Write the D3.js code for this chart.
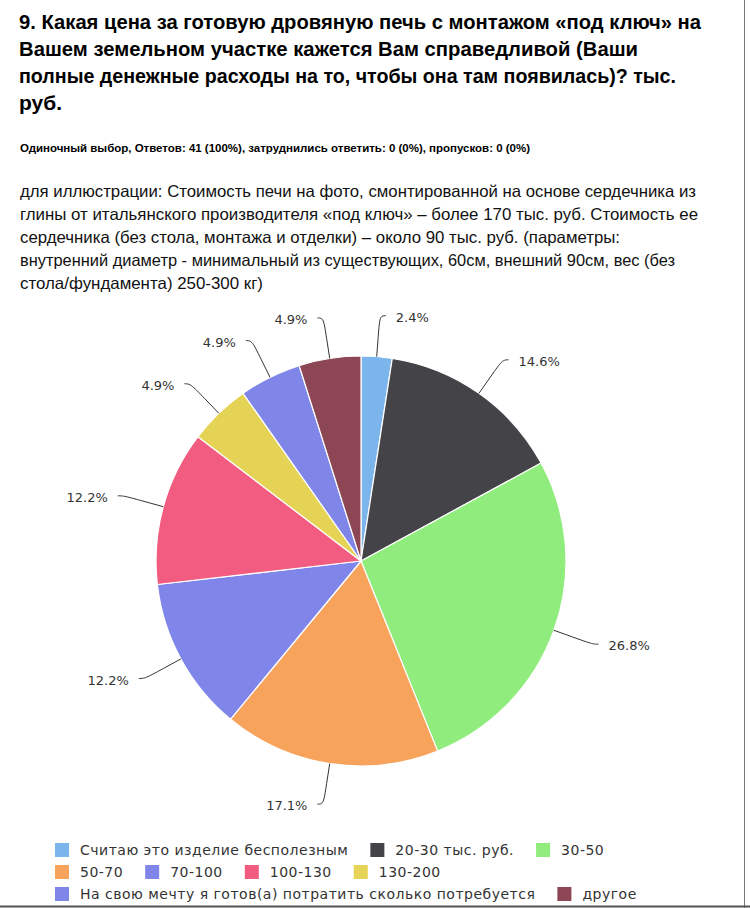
<!DOCTYPE html>
<html><head><meta charset="utf-8">
<script src="https://cdn.jsdelivr.net/npm/d3@7"></script>
<style>body{margin:0;background:#fff}svg{display:block}</style>
</head><body>
<svg id="c" width="750" height="908"></svg>
<script>
const titleLines = [
  "9. Какая цена за готовую дровяную печь с монтажом «под ключ» на",
  "Вашем земельном участке кажется Вам справедливой (Ваши",
  "полные денежные расходы на то, чтобы она там появилась)? тыс.",
  "руб."
];
const subtitle = "Одиночный выбор, Ответов: 41 (100%), затруднились ответить: 0 (0%), пропусков: 0 (0%)";
const descLines = [
  "для иллюстрации: Стоимость печи на фото, смонтированной на основе сердечника из",
  "глины от итальянского производителя «под ключ» – более 170 тыс. руб. Стоимость ее",
  "сердечника (без стола, монтажа и отделки) – около 90 тыс. руб. (параметры:",
  "внутренний диаметр - минимальный из существующих, 60см, внешний 90см, вес (без",
  "стола/фундамента) 250-300 кг)"
];
const categories = ["Считаю это изделие бесполезным","20-30 тыс. руб.","30-50","50-70","70-100","100-130","130-200","На свою мечту я готов(а) потратить сколько потребуется","другое"];
const counts = [1, 6, 11, 7, 5, 5, 2, 2, 2];
const percentLabels = ["2.4%","14.6%","26.8%","17.1%","12.2%","12.2%","4.9%","4.9%","4.9%"];
const colors = ["#7cb5ec","#434348","#90ed7d","#f7a35c","#8085e9","#f15c80","#e4d354","#8085e8","#8d4653"];

const svg = d3.select("#c");

// Title
const titleW = [682, 619, 657, 43];
titleLines.forEach((t, i) => {
  svg.append("text").attr("x", 19).attr("y", 29 + i * 27)
    .attr("font-family", "Liberation Sans, Arial, sans-serif").attr("font-weight", "bold")
    .attr("font-size", 21).attr("fill", "#000")
    .attr("textLength", titleW[i]).attr("lengthAdjust", "spacingAndGlyphs").text(t);
});
svg.append("text").attr("x", 20).attr("y", 152)
  .attr("font-family", "Liberation Sans, Arial, sans-serif").attr("font-weight", "bold")
  .attr("font-size", 10.5).attr("fill", "#000").attr("textLength", 510).attr("lengthAdjust", "spacingAndGlyphs")
  .text(subtitle);
const descW = [676, 678, 600, 655, 243];
descLines.forEach((t, i) => {
  svg.append("text").attr("x", 20).attr("y", 197 + i * 23)
    .attr("font-family", "Liberation Sans, Arial, sans-serif")
    .attr("font-size", 16.5).attr("fill", "#111")
    .attr("textLength", descW[i]).attr("lengthAdjust", "spacingAndGlyphs").text(t);
});

// Pie
const cx = 361, cy = 561, r = 205;
const pie = d3.pie().sort(null).value(d => d);
const arcs = pie(counts);
const arc = d3.arc().innerRadius(0).outerRadius(r);
const g = svg.append("g").attr("transform", `translate(${cx},${cy})`);
g.selectAll("path.slice").data(arcs).join("path").attr("class", "slice")
  .attr("d", arc).attr("fill", (d, i) => colors[i])
  .attr("stroke", "#fff").attr("stroke-width", 1.2).attr("stroke-linejoin", "round");

// Labels with soft connectors
const Rl = 246, conn = 20;
arcs.forEach((d, i) => {
  const a = (d.startAngle + d.endAngle) / 2;
  const right = a < Math.PI;
  const ly = -Rl * Math.cos(a);
  const lx = (right ? 1 : -1) * Math.sqrt(Math.max(0, Rl * Rl - ly * ly));
  const ex = r * Math.sin(a), ey = -r * Math.cos(a);
  const bx = (r + conn) * Math.sin(a), by = -(r + conn) * Math.cos(a);
  const sx = lx + (right ? 6 : -6);
  const p = d3.path();
  p.moveTo(sx, ly);
  p.bezierCurveTo(lx, ly, 2 * bx - ex, 2 * by - ey, bx, by);
  p.lineTo(ex, ey);
  g.append("path").attr("d", p.toString()).attr("fill", "none")
    .attr("stroke", "#333").attr("stroke-width", 1);
  g.append("text").attr("x", lx + (right ? 16 : -16)).attr("y", ly + 6)
    .attr("text-anchor", right ? "start" : "end")
    .attr("font-family", "DejaVu Sans, sans-serif").attr("font-size", 13)
    .attr("fill", "#333").text(percentLabels[i]);
});

// Legend
const lg = svg.append("g");
let x = 55, row = 0;
const rowY = [850, 872, 894], maxX = 680;
categories.forEach((c, i) => {
  const t = lg.append("text").attr("font-family", "DejaVu Sans, sans-serif")
    .attr("font-size", 14).attr("letter-spacing", 0.5).attr("fill", "#333").text(c);
  const w = t.node().getComputedTextLength();
  if (x + 25 + w > maxX && x > 55) { row++; x = 55; }
  const y = rowY[row];
  lg.append("rect").attr("x", x).attr("y", y - 7).attr("width", 14).attr("height", 14).attr("fill", colors[i]);
  t.attr("x", x + 25).attr("y", y + 5);
  x += 25 + w + 22;
});

// page frame
svg.append("line").attr("x1", 744.5).attr("x2", 744.5).attr("y1", 0).attr("y2", 908).attr("stroke", "#777").attr("stroke-width", 1);
svg.append("line").attr("x1", 0).attr("x2", 750).attr("y1", 906.5).attr("y2", 906.5).attr("stroke", "#555").attr("stroke-width", 2);
</script>
</body></html>
